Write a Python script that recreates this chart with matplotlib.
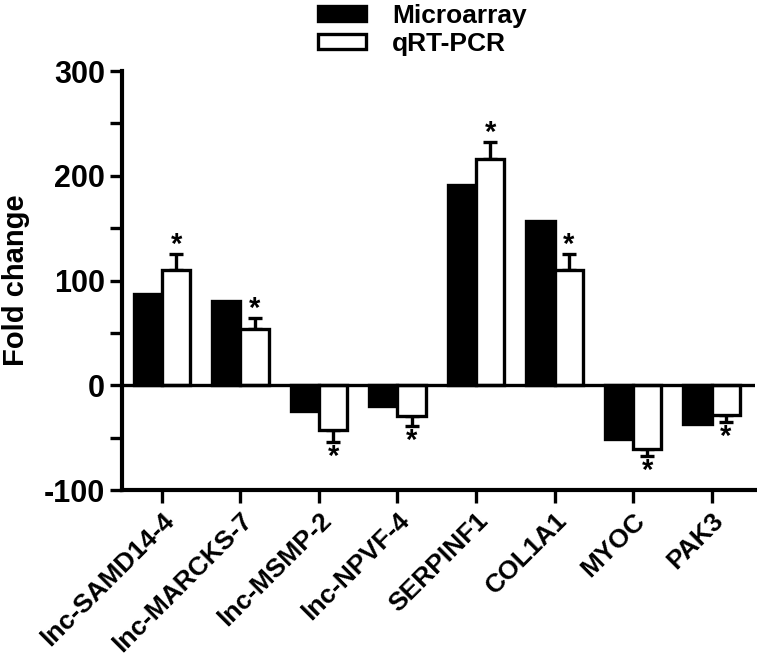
import numpy as np
import matplotlib
matplotlib.use("Agg")
import matplotlib.pyplot as plt

genes = ["lnc-SAMD14-4", "lnc-MARCKS-7", "lnc-MSMP-2", "lnc-NPVF-4",
         "SERPINF1", "COL1A1", "MYOC", "PAK3"]
microarray = [87, 81, -24, -20, 191, 157, -51, -37]
qrtpcr = [110, 54, -43, -29, 216, 110, -61, -28]
qrtpcr_err = [15, 10, 11, 10, 16, 15, 6, 7]

plt.rcParams["font.family"] = ["Liberation Sans", "DejaVu Sans"]
plt.rcParams["font.weight"] = "bold"
plt.rcParams["axes.unicode_minus"] = False

fig = plt.figure(figsize=(7.57, 6.58), dpi=100)
ax = fig.add_axes([0.161, 0.255, 0.836, 0.637])

x = np.arange(len(genes))
w = 0.36
lw = 2.4

ax.bar(x - w / 2, microarray, w, color="black", edgecolor="black",
       linewidth=lw, label="Microarray", zorder=3)
ax.bar(x + w / 2, qrtpcr, w, color="white", edgecolor="black",
       linewidth=lw, label="qRT-PCR", zorder=3)

vals = np.array(qrtpcr)
errs = np.array(qrtpcr_err)
lower = np.where(vals < 0, errs, 0)
upper = np.where(vals >= 0, errs, 0)
ax.errorbar(x + w / 2, vals, yerr=[lower, upper], fmt="none", ecolor="black",
            elinewidth=lw, capsize=5, capthick=lw, zorder=2)

for xi, v, e in zip(x + w / 2, vals, errs):
    if v >= 0:
        ax.text(xi, v + e - 4, "*", ha="center", va="bottom", fontsize=21,
                fontweight="bold")
    else:
        ax.text(xi, v - e - 1, "*", ha="center", va="top", fontsize=21,
                fontweight="bold")

ax.axhline(0, color="black", linewidth=lw, zorder=4)

ax.set_xlim(-0.51, 7.55)
ax.set_ylim(-100, 300)
ax.set_yticks([-100, 0, 100, 200, 300])
ax.set_yticks([-50, 50, 150, 250], minor=True)
ax.set_xticks(x)
ax.set_xticklabels(genes, rotation=45, ha="right", rotation_mode="anchor",
                   fontsize=19, fontweight="bold")
ax.tick_params(axis="y", which="both", length=9, width=lw, labelsize=22, pad=3)
ax.tick_params(axis="x", length=9, width=lw, pad=4)
for lab in ax.get_yticklabels():
    lab.set_fontweight("bold")

for s in ["top", "right"]:
    ax.spines[s].set_visible(False)
for s in ["left", "bottom"]:
    ax.spines[s].set_linewidth(3)

ax.set_ylabel("Fold change", fontsize=21, fontweight="bold", labelpad=10)

fig.legend(loc="upper center", bbox_to_anchor=(0.558, 1.03), frameon=False,
           prop={"size": 19, "weight": "bold"}, handlelength=1.8,
           handleheight=0.5, labelspacing=0.15, handletextpad=1.0)

fig.savefig("out.png", dpi=100)
